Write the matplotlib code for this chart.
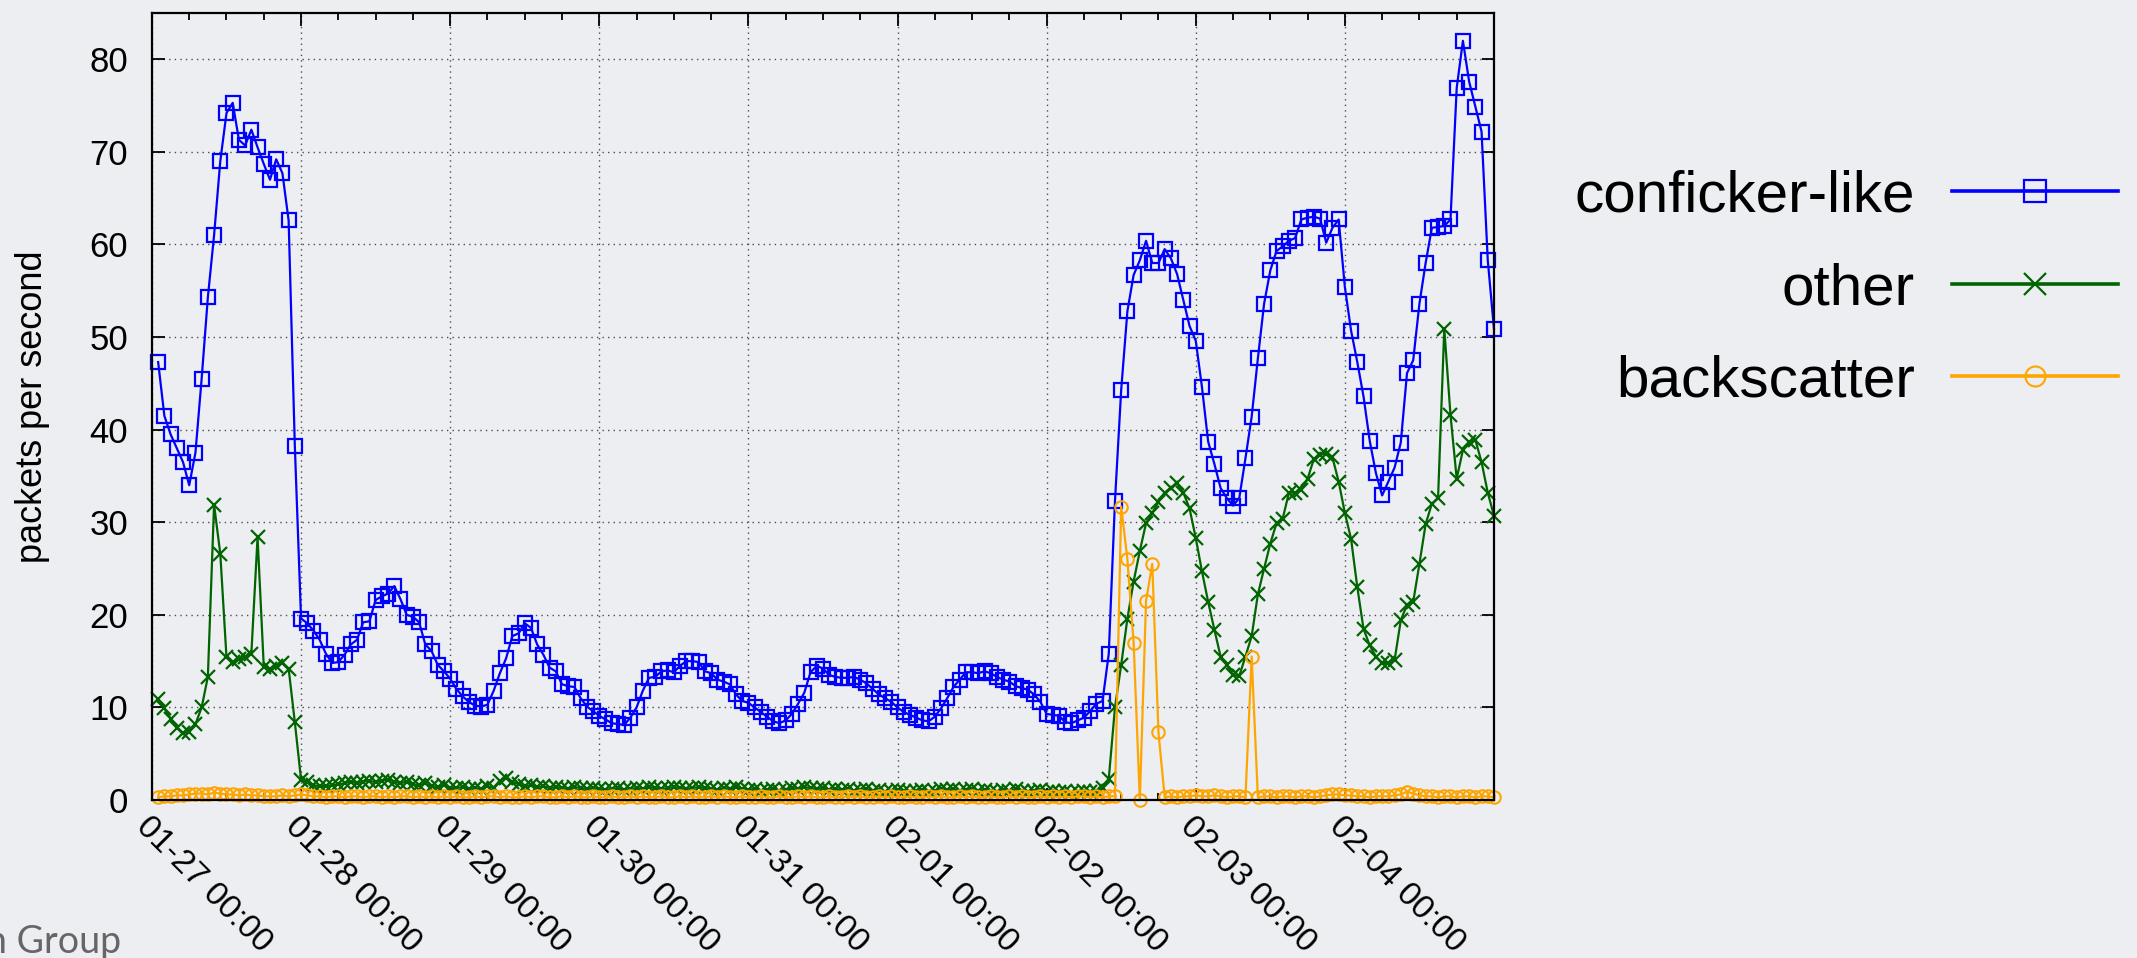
import matplotlib
matplotlib.use('Agg')
import matplotlib.pyplot as plt
import matplotlib.dates as mdates
import pandas as pd

# ==========================================
# data: hourly rates, 01-27 01:00 .. 02-05 00:00 (one row = one day)
# ==========================================
start_time = '2009-01-27 01:00'
x_start = '2009-01-27 00:00'
x_end = '2009-02-05 00:00'
day_ticks = ['2009-01-27', '2009-01-28', '2009-01-29', '2009-01-30', '2009-01-31',
             '2009-02-01', '2009-02-02', '2009-02-03', '2009-02-04']

conficker_like = [
    47.3, 41.5, 39.5, 38.0, 36.5, 34.0, 37.5, 45.5, 54.3, 61.0, 69.0, 74.2, 75.3, 71.3, 70.7, 72.4, 70.5, 68.7, 67.0, 69.2, 67.7, 62.6, 38.2, 19.6,
    19.1, 18.3, 17.3, 15.8, 14.8, 14.9, 15.7, 16.8, 17.3, 19.2, 19.3, 21.6, 22.0, 22.3, 23.1, 21.7, 20.0, 19.8, 19.2, 16.8, 16.1, 14.6, 13.9, 13.1,
    12.0, 11.2, 10.6, 10.2, 10.1, 10.3, 11.8, 13.7, 15.3, 17.7, 18.0, 19.1, 18.6, 16.8, 15.7, 14.3, 13.9, 12.5, 12.3, 12.2, 11.0, 10.1, 9.6, 9.1,
    8.7, 8.3, 8.2, 8.1, 8.9, 10.0, 11.8, 13.2, 13.3, 13.9, 14.0, 13.8, 14.5, 15.0, 15.0, 14.9, 13.9, 13.7, 13.0, 12.8, 12.5, 11.4, 10.7, 10.5,
    10.0, 9.5, 9.0, 8.5, 8.3, 8.6, 9.3, 10.4, 11.6, 13.8, 14.5, 14.2, 13.5, 13.3, 13.2, 13.2, 13.3, 13.0, 12.6, 12.0, 11.4, 11.0, 10.6, 10.0,
    9.5, 9.2, 8.9, 8.6, 8.5, 9.0, 9.9, 11.0, 12.2, 13.0, 13.8, 13.8, 13.7, 13.9, 13.7, 13.3, 13.0, 12.8, 12.3, 12.1, 11.9, 11.4, 10.6, 9.3,
    9.2, 9.1, 8.4, 8.3, 8.6, 8.9, 9.6, 10.4, 10.7, 15.8, 32.3, 44.3, 52.8, 56.7, 58.3, 60.4, 58.0, 58.0, 59.5, 58.5, 56.8, 54.0, 51.2, 49.6,
    44.6, 38.7, 36.3, 33.7, 32.6, 31.8, 32.6, 36.9, 41.4, 47.7, 53.6, 57.2, 59.3, 59.8, 60.4, 60.7, 62.7, 62.9, 63.0, 62.8, 60.2, 61.8, 62.7, 55.4,
    50.7, 47.3, 43.6, 38.8, 35.3, 32.9, 34.4, 35.9, 38.6, 46.1, 47.5, 53.6, 58.0, 61.8, 61.9, 62.0, 62.7, 76.9, 82.0, 77.6, 74.9, 72.2, 58.3, 50.9,
]

other = [
    10.9, 9.9, 8.8, 7.8, 7.2, 7.4, 8.2, 10.0, 13.3, 31.9, 26.6, 15.4, 14.9, 15.2, 15.5, 15.8, 28.4, 14.4, 14.2, 14.5, 14.8, 14.2, 8.4, 2.2,
    1.9, 1.6, 1.5, 1.5, 1.6, 1.7, 1.8, 2.0, 1.8, 2.0, 2.1, 1.9, 2.1, 2.2, 2.0, 1.8, 2.0, 1.7, 1.6, 1.8, 1.5, 1.4, 1.6, 1.3,
    1.3, 1.4, 1.2, 1.3, 1.2, 1.5, 1.3, 2.1, 2.4, 2.0, 1.7, 1.5, 1.6, 1.4, 1.5, 1.3, 1.4, 1.3, 1.2, 1.4, 1.3, 1.2, 1.3, 1.2,
    1.1, 1.2, 1.3, 1.1, 1.2, 1.3, 1.2, 1.4, 1.3, 1.2, 1.3, 1.4, 1.3, 1.2, 1.3, 1.4, 1.3, 1.2, 1.1, 1.3, 1.2, 1.4, 1.2, 1.1,
    1.2, 1.0, 1.1, 1.2, 1.0, 1.1, 1.3, 1.2, 1.4, 1.3, 1.2, 1.3, 1.1, 1.2, 1.1, 1.2, 1.0, 1.1, 1.2, 1.0, 1.1, 0.9, 1.0, 1.1,
    1.0, 0.9, 1.0, 1.1, 0.9, 1.0, 1.2, 1.1, 1.2, 1.0, 1.1, 1.2, 1.0, 1.1, 1.0, 0.9, 1.1, 1.0, 1.2, 1.0, 0.9, 1.0, 1.1, 0.9,
    1.0, 0.9, 1.0, 0.8, 0.9, 1.0, 0.9, 1.0, 1.3, 2.3, 10.0, 14.6, 19.6, 23.6, 26.9, 29.9, 31.0, 32.2, 33.2, 33.7, 34.2, 33.2, 31.5, 28.3,
    24.7, 21.4, 18.4, 15.5, 14.6, 13.5, 13.4, 15.5, 17.7, 22.2, 25.0, 27.7, 29.9, 30.4, 33.2, 33.2, 33.5, 34.7, 36.8, 37.3, 37.4, 37.0, 34.4, 31.0,
    28.2, 23.0, 18.5, 16.7, 15.5, 14.8, 14.8, 15.1, 19.4, 21.1, 21.4, 25.5, 29.8, 32.0, 32.6, 50.9, 41.6, 34.7, 37.8, 38.7, 38.9, 36.5, 33.2, 30.7,
]

backscatter = [
    0.3, 0.4, 0.4, 0.5, 0.5, 0.6, 0.7, 0.7, 0.6, 0.8, 0.7, 0.6, 0.6, 0.5, 0.6, 0.5, 0.5, 0.4, 0.4, 0.4, 0.5, 0.4, 0.5, 0.6,
    0.5, 0.4, 0.4, 0.3, 0.4, 0.4, 0.3, 0.4, 0.4, 0.3, 0.4, 0.4, 0.3, 0.4, 0.3, 0.4, 0.4, 0.3, 0.4, 0.3, 0.4, 0.3, 0.4, 0.3,
    0.4, 0.3, 0.3, 0.4, 0.3, 0.4, 0.4, 0.3, 0.4, 0.3, 0.3, 0.4, 0.3, 0.4, 0.4, 0.3, 0.3, 0.4, 0.3, 0.4, 0.3, 0.3, 0.4, 0.3,
    0.3, 0.4, 0.3, 0.3, 0.4, 0.3, 0.4, 0.3, 0.3, 0.4, 0.3, 0.3, 0.4, 0.3, 0.4, 0.3, 0.3, 0.4, 0.3, 0.4, 0.3, 0.3, 0.4, 0.3,
    0.3, 0.4, 0.3, 0.3, 0.4, 0.3, 0.3, 0.4, 0.3, 0.4, 0.3, 0.3, 0.4, 0.3, 0.3, 0.4, 0.3, 0.4, 0.3, 0.3, 0.4, 0.3, 0.4, 0.3,
    0.3, 0.4, 0.3, 0.3, 0.4, 0.3, 0.4, 0.3, 0.3, 0.4, 0.3, 0.4, 0.3, 0.3, 0.4, 0.3, 0.3, 0.4, 0.3, 0.4, 0.3, 0.3, 0.4, 0.3,
    0.4, 0.3, 0.4, 0.3, 0.4, 0.4, 0.3, 0.4, 0.3, 0.4, 0.4, 31.7, 26.0, 17.0, 0.0, 21.5, 25.5, 7.3, 0.3, 0.4, 0.3, 0.4, 0.4, 0.5,
    0.4, 0.4, 0.5, 0.4, 0.3, 0.4, 0.4, 0.3, 15.5, 0.3, 0.4, 0.4, 0.3, 0.4, 0.4, 0.3, 0.4, 0.4, 0.3, 0.4, 0.5, 0.6, 0.6, 0.5,
    0.5, 0.4, 0.4, 0.3, 0.4, 0.4, 0.4, 0.5, 0.6, 0.9, 0.7, 0.5, 0.4, 0.4, 0.3, 0.4, 0.4, 0.3, 0.4, 0.4, 0.3, 0.4, 0.4, 0.3,
]

labels = ['conficker-like', 'other', 'backscatter']
y_ticks = [0, 10, 20, 30, 40, 50, 60, 70, 80]

# ==========================================
# figure
# ==========================================
bg = '#eceef1'
plt.rcParams['font.family'] = ['Liberation Sans', 'DejaVu Sans']

times = pd.date_range(start_time, periods=len(conficker_like), freq='h')

fig = plt.figure(figsize=(21.37, 9.58), dpi=100, facecolor=bg)
ax = fig.add_axes([0.0711, 0.1649, 0.628, 0.8215])
ax.set_facecolor(bg)

ax.plot(times, conficker_like, color='#0000ff', lw=1.6, marker='s', ms=10,
        mfc='none', mew=1.6, clip_on=False, label=labels[0])
ax.plot(times, other, color='#006400', lw=1.6, marker='x', ms=10,
        mew=1.6, clip_on=False, label=labels[1])
ax.plot(times, backscatter, color='#ffa500', lw=1.6, marker='o', ms=9,
        mfc='none', mew=1.5, clip_on=False, label=labels[2])

ax.set_xlim(pd.Timestamp(x_start), pd.Timestamp(x_end))
ax.set_ylim(0, 85)
ax.set_yticks(y_ticks)

# day ticks stop at 02-04; the right border is 02-05 00:00
ax.set_xticks(pd.to_datetime(day_ticks))
ax.xaxis.set_minor_locator(mdates.HourLocator(byhour=[6, 12, 18]))
ax.xaxis.set_major_formatter(mdates.DateFormatter('%m-%d %H:%M'))

ax.set_axisbelow(True)
ax.grid(True, which='major', linestyle=(0, (1, 3)), color='0.3', lw=1.0)

ax.tick_params(which='both', direction='in', top=True, right=True)
ax.tick_params(which='major', length=9, width=1.3)
ax.tick_params(which='minor', length=5, width=1.3)
ax.tick_params(axis='y', pad=17, labelsize=25)
ax.tick_params(axis='x', pad=8, labelsize=24)
plt.setp(ax.get_xticklabels(), rotation=-45, ha='left', va='top', rotation_mode='anchor')

for sp in ax.spines.values():
    sp.set_linewidth(1.6)

ax.set_ylabel('packets per second', fontsize=26)
ax.yaxis.set_label_coords(-0.076, 0.5)

leg = ax.legend(loc='upper right', bbox_to_anchor=(0.9911, 0.823),
                bbox_transform=fig.transFigure, frameon=False, fontsize=42,
                markerfirst=False, handlelength=2.85, handletextpad=0.63,
                labelspacing=0.66, borderpad=0, borderaxespad=0,
                markerscale=1.6, numpoints=1)
for h in leg.get_lines():
    h.set_linewidth(2.6)

fig.text(-14 / 2137, 1 - 953 / 958, 'n Group', ha='left', va='baseline',
         fontsize=27, color='#666666', family=['Lato', 'DejaVu Sans'])

plt.savefig('out.png', dpi=100, facecolor=bg)
plt.close(fig)
